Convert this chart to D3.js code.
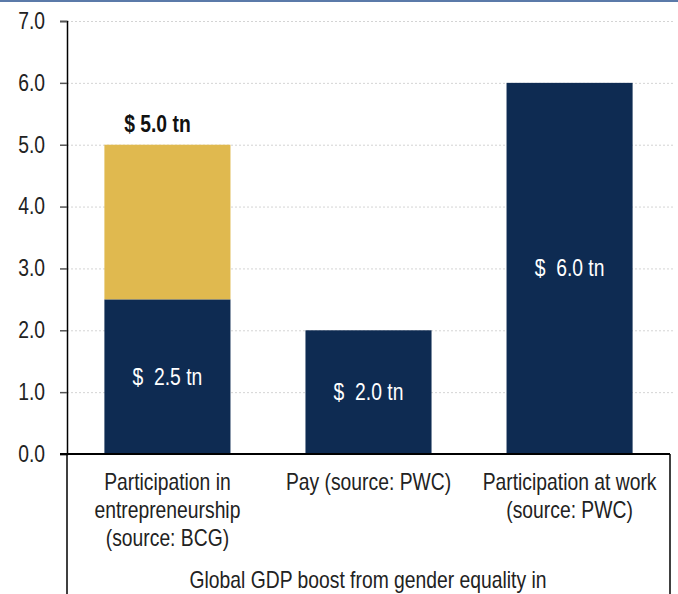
<!DOCTYPE html>
<html>
<head>
<meta charset="utf-8">
<script src="https://cdn.jsdelivr.net/npm/d3@7"></script>
<style>
  body { margin: 0; background: #fff; }
  svg text { font-family: "Liberation Sans Narrow", "Arial Narrow", "Liberation Sans", Arial, sans-serif; }
</style>
</head>
<body>
<div id="chart"></div>
<script>
// data
var categories = ["Participation in|entrepreneurship|(source: BCG)", "Pay (source: PWC)", "Participation at work|(source: PWC)"];
var baseValues = [2.5, 2.0, 6.0];
var topValues = [2.5, 0, 0];
var baseLabels = ["$  2.5 tn", "$  2.0 tn", "$  6.0 tn"];
var totalLabels = ["$ 5.0 tn", "", ""];
var yTicks = [0, 1, 2, 3, 4, 5, 6, 7];
var axisTitle = "Global GDP boost from gender equality in";

var W = 678, H = 594;
var margin = {top: 21, right: 8, bottom: 140, left: 67},
    width = W - margin.left - margin.right,
    height = H - margin.top - margin.bottom;
var SX = 0.84; // horizontal squeeze to imitate a narrow font

var svg = d3.select("#chart")
  .append("svg")
    .attr("width", W)
    .attr("height", H);

// top border strip
svg.append("rect")
  .attr("x", 0).attr("y", 0)
  .attr("width", W).attr("height", 2)
  .attr("fill", "#5b7aa9");

var g = svg.append("g")
  .attr("transform", "translate(" + margin.left + "," + margin.top + ")");

var x = d3.scaleBand()
  .domain(categories)
  .range([0, 603])
  .paddingInner(0.373)
  .paddingOuter(0.186);

var y = d3.scaleLinear()
  .domain([0, 7])
  .range([height, 0]);

// gridlines
g.append("g")
  .selectAll("line")
  .data(yTicks.filter(function(d) { return d > 0; }))
  .enter()
  .append("line")
    .attr("x1", 0).attr("x2", 608)
    .attr("y1", function(d) { return y(d) + 0.5; })
    .attr("y2", function(d) { return y(d) + 0.5; })
    .attr("stroke", "#d4d4d4")
    .attr("stroke-dasharray", "2,2");

// y axis
var yAxis = g.append("g")
  .call(d3.axisLeft(y).tickValues(yTicks).tickFormat(d3.format(".1f")).tickSize(7).tickPadding(22));
yAxis.select(".domain").attr("stroke", "#000").attr("stroke-width", 1.5);
yAxis.selectAll(".tick line").attr("stroke", "#555").attr("stroke-width", 1.5);
yAxis.selectAll(".tick text")
  .attr("font-size", 23).attr("fill", "#222")
  .attr("font-family", null)
  .attr("x", -22 / SX)
  .attr("transform", "scale(" + SX + ",1)");

// bars: base segment
g.append("g")
  .selectAll("rect")
  .data(categories)
  .enter()
  .append("rect")
    .attr("x", function(d) { return x(d); })
    .attr("width", x.bandwidth())
    .attr("y", function(d, i) { return y(baseValues[i]); })
    .attr("height", function(d, i) { return height - y(baseValues[i]); })
    .attr("fill", "#0e2b52");

// bars: top segment
g.append("g")
  .selectAll("rect")
  .data(categories)
  .enter()
  .append("rect")
    .attr("x", function(d) { return x(d); })
    .attr("width", x.bandwidth())
    .attr("y", function(d, i) { return y(baseValues[i] + topValues[i]); })
    .attr("height", function(d, i) { return y(baseValues[i]) - y(baseValues[i] + topValues[i]); })
    .attr("fill", "#e0b94f");

// x axis line and category box
g.append("line")
  .attr("x1", -7).attr("x2", 603)
  .attr("y1", height).attr("y2", height)
  .attr("stroke", "#000").attr("stroke-width", 2);
g.append("line")
  .attr("x1", 0).attr("x2", 0)
  .attr("y1", height).attr("y2", H - margin.top)
  .attr("stroke", "#000").attr("stroke-width", 1.5);
g.append("line")
  .attr("x1", 603).attr("x2", 603)
  .attr("y1", height).attr("y2", H - margin.top)
  .attr("stroke", "#000").attr("stroke-width", 1.5);

function place(px, py) {
  return "translate(" + px + "," + py + ") scale(" + SX + ",1)";
}

// labels inside bars
g.append("g")
  .selectAll("text")
  .data(categories)
  .enter()
  .append("text")
    .text(function(d, i) { return baseLabels[i]; })
    .attr("transform", function(d, i) {
      return place(x(d) + x.bandwidth() / 2, y(baseValues[i] / 2) + 8);
    })
    .attr("text-anchor", "middle")
    .attr("font-size", 23)
    .attr("fill", "#fff")
    .style("white-space", "pre");

// total labels above bars
g.append("g")
  .selectAll("text")
  .data(categories)
  .enter()
  .append("text")
    .text(function(d, i) { return totalLabels[i]; })
    .attr("transform", function(d, i) {
      return place(x(d) + x.bandwidth() / 2 - 10, y(baseValues[i] + topValues[i]) - 13);
    })
    .attr("text-anchor", "middle")
    .attr("font-size", 23)
    .attr("font-weight", "bold")
    .attr("fill", "#111");

// category labels
var cat = g.append("g")
  .selectAll("text")
  .data(categories)
  .enter()
  .append("text")
    .attr("transform", function(d) { return place(x(d) + x.bandwidth() / 2, height + 36); })
    .attr("text-anchor", "middle")
    .attr("font-size", 23)
    .attr("fill", "#222");
cat.selectAll("tspan")
  .data(function(d) { return d.split("|"); })
  .enter()
  .append("tspan")
    .attr("x", 0)
    .attr("dy", function(d, i) { return i === 0 ? 0 : 28; })
    .text(function(d) { return d; });

// axis title
g.append("text")
  .text(axisTitle)
  .attr("transform", place(301, height + 134))
  .attr("text-anchor", "middle")
  .attr("font-size", 23)
  .attr("fill", "#222");
</script>
</body>
</html>
